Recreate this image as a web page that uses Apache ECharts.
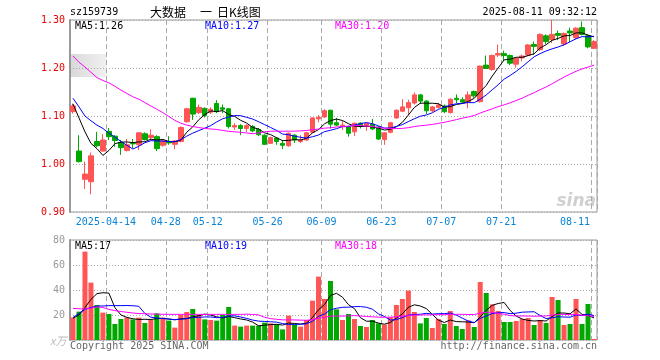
<!DOCTYPE html>
<html><head><meta charset="utf-8">
<script src="https://cdn.jsdelivr.net/npm/echarts@6/dist/echarts.min.js"></script>
<style>html,body{margin:0;padding:0;background:#fff}#c{width:660px;height:360px}</style>
</head><body><div id="c"></div>
<script>
const dates = [
'2025-04-03','2025-04-07','2025-04-08','2025-04-09','2025-04-10','2025-04-11',
'2025-04-14','2025-04-15','2025-04-16','2025-04-17','2025-04-18',
'2025-04-21','2025-04-22','2025-04-23','2025-04-24','2025-04-25',
'2025-04-28','2025-04-29','2025-04-30',
'2025-05-06','2025-05-07','2025-05-08','2025-05-09',
'2025-05-12','2025-05-13','2025-05-14','2025-05-15','2025-05-16',
'2025-05-19','2025-05-20','2025-05-21','2025-05-22','2025-05-23',
'2025-05-26','2025-05-27','2025-05-28','2025-05-29','2025-05-30',
'2025-06-03','2025-06-04','2025-06-05','2025-06-06',
'2025-06-09','2025-06-10','2025-06-11','2025-06-12','2025-06-13',
'2025-06-16','2025-06-17','2025-06-18','2025-06-19','2025-06-20',
'2025-06-23','2025-06-24','2025-06-25','2025-06-26','2025-06-27',
'2025-06-30','2025-07-01','2025-07-02','2025-07-03','2025-07-04',
'2025-07-07','2025-07-08','2025-07-09','2025-07-10','2025-07-11',
'2025-07-14','2025-07-15','2025-07-16','2025-07-17','2025-07-18',
'2025-07-21','2025-07-22','2025-07-23','2025-07-24','2025-07-25',
'2025-07-28','2025-07-29','2025-07-30','2025-07-31','2025-08-01',
'2025-08-04','2025-08-05','2025-08-06','2025-08-07','2025-08-08',
'2025-08-11'];

const opens = [1.109,1.027,0.968,0.963,1.047,1.027,1.068,1.058,1.045,1.028,
1.043,1.040,1.063,1.055,1.057,1.039,1.046,1.041,1.047,1.088,
1.137,1.107,1.116,1.108,1.126,1.117,1.115,1.077,1.080,1.074,
1.078,1.072,1.060,1.043,1.054,1.043,1.038,1.060,1.047,1.050,
1.066,1.094,1.098,1.112,1.086,1.078,1.078,1.067,1.085,1.079,
1.083,1.077,1.051,1.066,1.096,1.110,1.117,1.127,1.144,1.131,
1.111,1.118,1.121,1.107,1.137,1.134,1.130,1.151,1.130,1.206,
1.197,1.227,1.230,1.226,1.208,1.221,1.227,1.249,1.238,1.267,
1.259,1.272,1.250,1.277,1.263,1.284,1.267,1.241];
const closes = [1.121,1.005,0.979,1.017,1.038,1.050,1.057,1.049,1.034,1.040,
1.042,1.065,1.051,1.060,1.032,1.048,1.044,1.048,1.076,1.115,
1.104,1.118,1.101,1.114,1.109,1.114,1.078,1.080,1.074,1.080,
1.069,1.061,1.041,1.055,1.047,1.039,1.064,1.050,1.050,1.065,
1.096,1.097,1.111,1.083,1.081,1.081,1.064,1.085,1.079,1.085,
1.073,1.052,1.065,1.086,1.112,1.119,1.128,1.144,1.131,1.111,
1.119,1.123,1.109,1.135,1.134,1.129,1.144,1.142,1.204,1.199,
1.226,1.230,1.226,1.210,1.220,1.225,1.248,1.245,1.270,1.255,
1.270,1.268,1.272,1.273,1.283,1.270,1.244,1.255];
const highs = [1.126,1.060,1.005,1.024,1.067,1.062,1.075,1.060,1.050,1.052,
1.052,1.066,1.066,1.072,1.060,1.051,1.058,1.050,1.078,1.117,
1.138,1.124,1.118,1.118,1.133,1.124,1.116,1.085,1.083,1.083,
1.081,1.075,1.062,1.057,1.056,1.050,1.066,1.062,1.060,1.067,
1.097,1.102,1.114,1.113,1.096,1.090,1.080,1.086,1.087,1.086,
1.094,1.079,1.066,1.088,1.114,1.135,1.134,1.149,1.146,1.133,
1.121,1.127,1.124,1.137,1.145,1.139,1.151,1.153,1.205,1.226,
1.228,1.249,1.236,1.228,1.222,1.228,1.250,1.255,1.272,1.270,
1.300,1.278,1.274,1.284,1.285,1.297,1.270,1.258];
const lows = [1.105,1.003,0.948,0.937,1.035,1.026,1.050,1.036,1.019,1.026,
1.033,1.029,1.049,1.050,1.027,1.036,1.040,1.031,1.045,1.086,
1.092,1.104,1.097,1.104,1.106,1.106,1.074,1.071,1.060,1.067,
1.066,1.058,1.040,1.042,1.040,1.031,1.036,1.044,1.044,1.048,
1.064,1.087,1.096,1.074,1.079,1.071,1.057,1.058,1.074,1.069,
1.071,1.050,1.040,1.064,1.094,1.108,1.102,1.124,1.125,1.104,
1.108,1.116,1.106,1.105,1.127,1.125,1.116,1.138,1.128,1.198,
1.194,1.223,1.215,1.206,1.201,1.214,1.225,1.228,1.236,1.250,
1.252,1.258,1.246,1.254,1.260,1.268,1.241,1.240];
const volumes = [18.1,22.7,70.7,45.9,28.0,21.9,20.8,12.8,16.8,18.1,
16.5,17.9,13.6,16.0,21.3,17.9,15.5,9.9,20.0,22.4,
24.8,20.0,16.5,16.0,15.5,20.0,26.4,11.5,10.7,11.5,
11.5,11.5,13.9,13.3,12.5,8.5,19.5,12.5,10.7,16.0,
31.5,50.7,32.8,47.2,24.5,16.0,20.8,16.8,11.2,10.4,
16.0,13.3,12.3,18.1,28.0,32.8,39.5,22.4,13.3,17.6,
9.6,16.8,12.8,23.2,11.2,8.8,15.7,10.4,46.4,37.6,
28.5,23.2,14.4,14.4,15.2,16.8,17.6,12.0,16.0,13.6,
34.4,32.0,12.0,12.8,32.8,12.8,28.8,0.8];

// moving-average values at the left edge (they depend on days before the window)
const ma5Head = [1.125,1.096,1.067,1.043];
const ma10Head = [1.137,1.119,1.100,1.090,1.081,1.074,1.064,1.056,1.047];
const ma30Head = [1.225,1.212,1.202,1.191,1.180,1.174,1.169,1.162,1.154,1.147,1.140,1.135,1.128,1.121,1.114,1.107,1.099,1.091,1.085,1.081,1.078,1.076,1.074,1.073,1.072,1.070,1.068,1.067,1.066];
const vma5Head = [17.5,20,26,32.5];
const vma10Head = [18,21.3,24.5,26,27.2,27.2,27.5,27.5,27.5];
const vma30Head = [25.3,25,24.7,25.5,26.5,26,24.5,23.5,22.8,22.2,21.6,21.2,21,20.8,20.7,20.6,20.5,20.5,20.5,20.5,20.5,20.5,20.5,20.5,20.5,20.5,20.5,20.5,20.5];

const labelDates = ['2025-04-14','2025-04-28','2025-05-12','2025-05-26','2025-06-09','2025-06-23','2025-07-07','2025-07-21','2025-08-11'];
const priceTicks = [0.9,1.3,0.1];
const volTicks = [0,80,20];
const maTexts = ['MA5:1.26','MA10:1.27','MA30:1.20'];
const vmaTexts = ['MA5:17','MA10:19','MA30:18'];

const RED = '#ff5555', GREEN = '#00a800';
const MONO = "'DejaVu Sans Mono', monospace";

function movingAvg(src, n, head) {
  return src.map((v, i) => {
    if (i < n - 1) return head[i];
    let s = 0;
    for (let k = i - n + 1; k <= i; k++) s += src[k];
    return +(s / n).toFixed(4);
  });
}

const candle = dates.map((d, i) => [opens[i], closes[i], lows[i], highs[i]]);
const volData = volumes.map((v, i) => ({ value: v, itemStyle: { color: closes[i] >= opens[i] ? RED : GREEN } }));

const isLabel = (idx, val) => labelDates.indexOf(val) >= 0;

function xAxisCfg(gridIndex, showLabel) {
  return {
    type: 'category', gridIndex, data: dates, boundaryGap: true,
    axisLine: { show: false }, axisTick: { show: false },
    axisLabel: {
      show: showLabel, interval: isLabel, margin: 5,
      color: '#0a84d6', fontFamily: MONO, fontSize: 10,
      padding: [0, 6, 0, 0],
      formatter: (val, idx) => {
        if (val === labelDates[0]) return val;
        if (idx === dates.length - 1) return '{e|' + val.slice(5) + '}';
        return val.slice(5);
      },
      rich: { e: { padding: [0, 32, 0, 0], color: '#0a84d6', fontFamily: MONO, fontSize: 10 } }
    },
    splitLine: { show: true, interval: isLabel, lineStyle: { color: '#aaa', type: [5, 3], width: 1 } }
  };
}

const chart = echarts.init(document.getElementById('c'));
chart.setOption({
  animation: false,
  backgroundColor: '#fff',
  grid: [
    { left: 70, top: 20, width: 527, height: 192, show: true, borderColor: '#999', borderWidth: 1 },
    { left: 70, top: 240, width: 527, height: 100, show: true, borderColor: '#999', borderWidth: 1 }
  ],
  xAxis: [xAxisCfg(0, true), xAxisCfg(1, false)],
  yAxis: [
    { type: 'value', gridIndex: 0, min: priceTicks[0], max: priceTicks[1], interval: priceTicks[2],
      axisLine: { show: true, lineStyle: { color: '#999', width: 2 } }, axisTick: { show: false },
      axisLabel: { color: '#ee0000', fontFamily: MONO, fontSize: 10, margin: 5, formatter: v => v.toFixed(2) },
      splitLine: { show: true, lineStyle: { color: '#aaa', type: [1, 2] } } },
    { type: 'value', gridIndex: 1, min: volTicks[0], max: volTicks[1], interval: volTicks[2],
      axisLine: { show: true, lineStyle: { color: '#999', width: 2 } }, axisTick: { show: false },
      axisLabel: { color: '#999', fontFamily: MONO, fontSize: 10, margin: 5, formatter: v => v === 0 ? '' : String(v) },
      splitLine: { show: true, lineStyle: { color: '#aaa', type: [1, 2] } } }
  ],
  series: [
    { type: 'candlestick', xAxisIndex: 0, yAxisIndex: 0, data: candle, barWidth: 5,
      itemStyle: { color: RED, color0: GREEN, borderColor: RED, borderColor0: GREEN, borderWidth: 1 } },
    { type: 'line', xAxisIndex: 0, yAxisIndex: 0, data: movingAvg(closes, 5, ma5Head), symbol: 'none', lineStyle: { color: '#000', width: 1 } },
    { type: 'line', xAxisIndex: 0, yAxisIndex: 0, data: movingAvg(closes, 10, ma10Head), symbol: 'none', lineStyle: { color: '#0000ff', width: 1 } },
    { type: 'line', xAxisIndex: 0, yAxisIndex: 0, data: movingAvg(closes, 30, ma30Head), symbol: 'none', lineStyle: { color: '#ff00ff', width: 1 } },
    { type: 'bar', xAxisIndex: 1, yAxisIndex: 1, data: volData, barWidth: 5 },
    { type: 'line', xAxisIndex: 1, yAxisIndex: 1, data: movingAvg(volumes, 5, vma5Head), symbol: 'none', lineStyle: { color: '#000', width: 1 } },
    { type: 'line', xAxisIndex: 1, yAxisIndex: 1, data: movingAvg(volumes, 10, vma10Head), symbol: 'none', lineStyle: { color: '#0000ff', width: 1 } },
    { type: 'line', xAxisIndex: 1, yAxisIndex: 1, data: movingAvg(volumes, 30, vma30Head), symbol: 'none', lineStyle: { color: '#ff00ff', width: 1 } }
  ],
  graphic: [
    { type: 'rect', shape: { x: 71, y: 54, width: 36, height: 23 }, z: 0,
      style: { fill: new echarts.graphic.LinearGradient(0, 0, 1, 0, [{ offset: 0, color: 'rgba(200,200,200,0.7)' }, { offset: 1, color: 'rgba(225,225,225,0.5)' }]) } },
    { type: 'text', x: 70, y: 12.5, style: { text: 'sz159739', font: '10px ' + MONO, fill: '#000', textVerticalAlign: 'middle' } },
    { type: 'text', x: 150, y: 12.5, style: { text: '大数据', font: "12px 'Noto Sans CJK SC'", fill: '#000', textVerticalAlign: 'middle' } },
    { type: 'text', x: 200, y: 12.5, style: { text: '一', font: "12px 'Noto Sans CJK SC'", fill: '#000', textVerticalAlign: 'middle' } },
    { type: 'text', x: 217, y: 12.5, style: { text: '日K线图', font: "12px 'Noto Sans CJK SC'", fill: '#000', textVerticalAlign: 'middle' } },
    { type: 'text', x: 597, y: 12.5, style: { text: '2025-08-11 09:32:12', font: '10px ' + MONO, fill: '#000', textAlign: 'right', textVerticalAlign: 'middle' } },
    { type: 'text', x: 75, y: 26, style: { text: maTexts[0], font: '10px ' + MONO, fill: '#000', textVerticalAlign: 'middle' } },
    { type: 'text', x: 205, y: 26, style: { text: maTexts[1], font: '10px ' + MONO, fill: '#0000ff', textVerticalAlign: 'middle' } },
    { type: 'text', x: 335, y: 26, style: { text: maTexts[2], font: '10px ' + MONO, fill: '#ff00ff', textVerticalAlign: 'middle' } },
    { type: 'text', x: 75, y: 246.5, style: { text: vmaTexts[0], font: '10px ' + MONO, fill: '#000', textVerticalAlign: 'middle' } },
    { type: 'text', x: 205, y: 246.5, style: { text: vmaTexts[1], font: '10px ' + MONO, fill: '#0000ff', textVerticalAlign: 'middle' } },
    { type: 'text', x: 335, y: 246.5, style: { text: vmaTexts[2], font: '10px ' + MONO, fill: '#ff00ff', textVerticalAlign: 'middle' } },
    { type: 'text', x: 50, y: 341, style: { text: 'x万', font: "italic 11px 'Noto Sans CJK SC'", fill: '#bbb', textVerticalAlign: 'middle' } },
    { type: 'text', x: 70, y: 346, style: { text: 'Copyright 2025 SINA.COM', font: '10px ' + MONO, fill: '#666', textVerticalAlign: 'middle' } },
    { type: 'text', x: 597, y: 346, style: { text: 'http://finance.sina.com.cn', font: '10px ' + MONO, fill: '#666', textAlign: 'right', textVerticalAlign: 'middle' } },
    { type: 'text', x: 596, y: 202, style: { text: 'sina', font: "italic bold 17px 'DejaVu Sans'", fill: 'rgba(170,170,170,0.55)', textAlign: 'right', textVerticalAlign: 'middle' } }
  ]
});
</script></body></html>
